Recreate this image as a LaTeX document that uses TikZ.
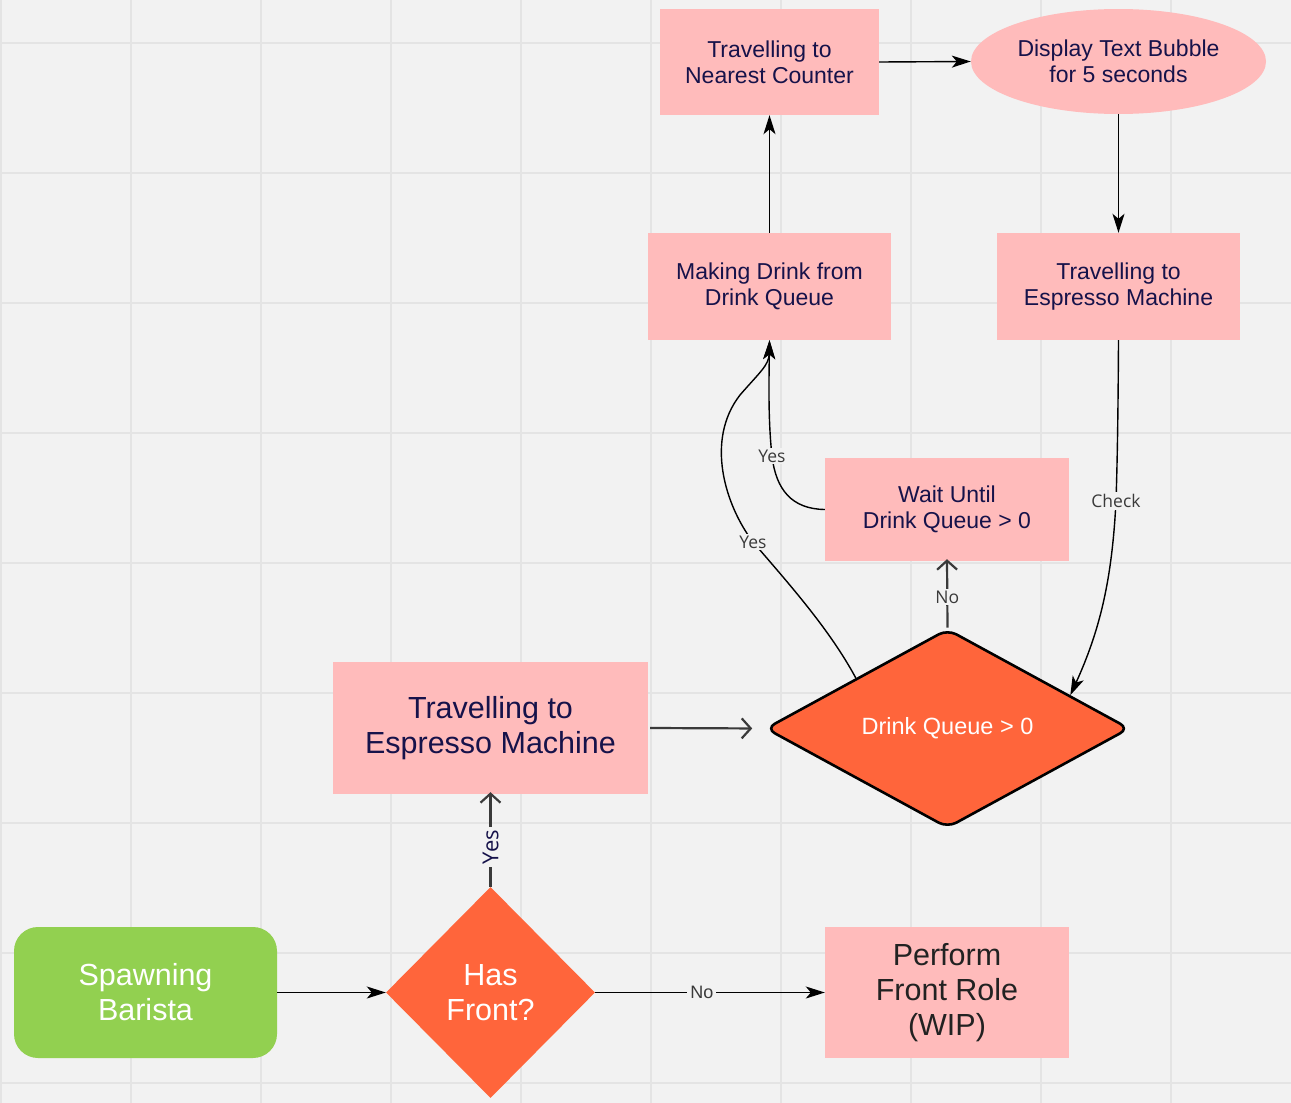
\documentclass[tikz,border=0pt]{standalone}
\usepackage{fontspec}
\setmainfont{Liberation Sans}
\newfontfamily\labelfont{Open Sans}
\usetikzlibrary{arrows.meta,shapes.geometric,calc}
\definecolor{bgc}{HTML}{F2F2F2}
\definecolor{gridc}{HTML}{E4E4E4}
\definecolor{pinkc}{HTML}{FFBBBB}
\definecolor{orangec}{HTML}{FF653B}
\definecolor{greenc}{HTML}{92D050}
\definecolor{navyc}{HTML}{16124A}
\definecolor{darkc}{HTML}{222222}
\definecolor{lblc}{HTML}{3A3A3A}
\tikzset{
  x=1pt, y=-1pt,
  boxsmall/.style={rectangle, fill=pinkc, align=center, inner sep=0pt, text=navyc,
    font=\fontsize{23}{26}\selectfont},
  boxbig/.style={rectangle, fill=pinkc, align=center, inner sep=0pt, text=navyc,
    font=\fontsize{30.5}{35}\selectfont},
  decision/.style={diamond, fill=orangec, align=center, inner sep=0pt, text=white},
  blackarrow/.style={draw=black, line width=1.4pt, -{Stealth[length=19pt,width=12pt,inset=5pt]}},
  openarrow/.style={draw=lblc, line width=2.2pt, -{Straight Barb[length=9pt,width=20pt]}},
  lbl/.style={fill=bgc, inner sep=2pt, text=lblc, font=\labelfont\fontsize{17.5}{20}\selectfont},
}
\begin{document}
\begin{tikzpicture}
% background and grid
\fill[bgc] (0,0) rectangle (1291,1103);
\useasboundingbox (0,0) rectangle (1291,1103);
\foreach \gx in {1,131,...,1171} \draw[gridc, line width=2pt] (\gx,0) -- (\gx,1103);
\foreach \gy in {43,173,...,1083} \draw[gridc, line width=2pt] (0,\gy) -- (1291,\gy);

% nodes
\node[boxsmall, minimum width=219pt, minimum height=106pt] (tnc) at (769.5,62) {Travelling to\\Nearest Counter};
\node[ellipse, fill=pinkc, align=center, inner sep=0pt, text=navyc, font=\fontsize{23}{26}\selectfont,
  minimum width=295pt, minimum height=105pt] (disp) at (1118.5,61.5) {Display Text Bubble\\for 5 seconds};
\node[boxsmall, minimum width=243pt, minimum height=107pt] (mdq) at (769.5,286.5) {Making Drink from\\Drink Queue};
\node[boxsmall, minimum width=243pt, minimum height=107pt] (tem1) at (1118.5,286.5) {Travelling to\\Espresso Machine};
\node[boxsmall, minimum width=244pt, minimum height=103pt] (wait) at (947,509.5) {Wait Until\\Drink Queue > 0};
\node[decision, draw=black, line width=2.6pt, rounded corners=10pt, minimum width=364pt, minimum height=199pt,
  font=\fontsize{23.5}{26}\selectfont] (dq) at (947.5,728.5) {Drink Queue > 0};
\node[boxbig, minimum width=315pt, minimum height=132pt] (tem2) at (490.5,728) {Travelling to\\Espresso Machine};
\node[rectangle, rounded corners=24pt, fill=greenc, text=white, align=center, inner sep=0pt,
  font=\fontsize{30.5}{35}\selectfont, minimum width=263pt, minimum height=131pt] (spawn) at (145.5,992.5) {Spawning\\Barista};
\node[decision, minimum width=209pt, minimum height=211pt, font=\fontsize{30.5}{35}\selectfont] (hf) at (490.5,992.5) {Has\\Front?};
\node[boxbig, text=darkc, minimum width=244pt, minimum height=131pt] (pfr) at (947,992.5) {Perform\\Front Role\\(WIP)};

% connectors
\draw[blackarrow] (spawn.east) -- (hf.west);
\draw[blackarrow] (hf.east) -- node[pos=0.465, fill=bgc, inner sep=3pt, text=lblc, font=\fontsize{18}{20}\selectfont] {No} (pfr.west);
\draw[openarrow] (hf.north) -- node[pos=0.42, fill=bgc, inner sep=3pt, rotate=90, text=navyc,
  font=\labelfont\fontsize{22}{24}\selectfont] {Yes} ([yshift=2pt]tem2.south);
\draw[openarrow, shorten >=12pt] ([xshift=2pt]tem2.east) -- (dq.west);
\draw[openarrow] (dq.north) -- node[pos=0.45, lbl] {No} ([yshift=2pt]wait.south);
\draw[blackarrow] (mdq.north) -- (tnc.south);
\draw[blackarrow] (tnc.east) -- (disp.west);
\draw[blackarrow] (disp.south) -- (tem1.north);
\coordinate (chk) at ($(dq.north)!0.67!(dq.east)$);
\coordinate (dqs) at ($(dq.west)!0.5!(dq.north)$);
\draw[blackarrow] (tem1.south) .. controls (1118,430) and (1117,470) .. (1116,501) node[lbl] {Check}
  .. controls (1112,580) and (1100,630) .. (chk);
\draw[blackarrow] (wait.west) .. controls (792,509) and (776,490) .. (772,456) node[lbl] {Yes}
  .. controls (768,420) and (769,380) .. (mdq.south);
\draw[blackarrow] (dqs) .. controls (830,630) and (790,585) .. (753,542) node[lbl] {Yes}
  .. controls (725,505) and (705,440) .. (740,395) .. controls (760,372) and (769,365) .. (mdq.south);
\end{tikzpicture}
\end{document}
